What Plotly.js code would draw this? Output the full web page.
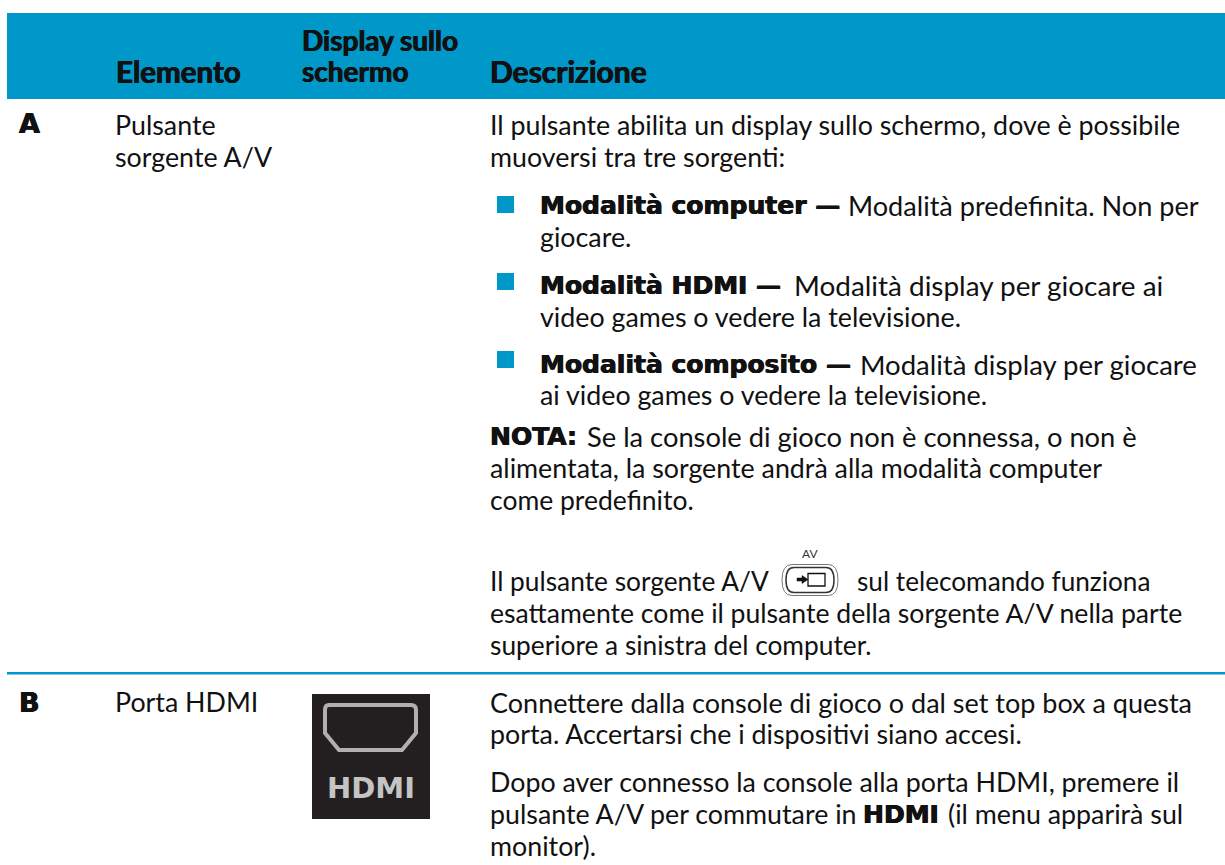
<!DOCTYPE html>
<html><head><meta charset="utf-8">
<script src="https://cdn.plot.ly/plotly-3.0.1.min.js"></script>
<style>html,body{margin:0;padding:0;background:#fff}#c{width:1225px;height:865px}</style>
</head><body><div id="c"></div>
<script>
const headerLabels = ["Elemento","Display sullo","schermo","Descrizione"];
const rowLetters = ["A","B"];
const elementLabels = ["Pulsante","sorgente A/V","Porta HDMI"];
const boldRuns = ["Modalità computer —","Modalità HDMI —","Modalità composito —","NOTA:","HDMI"];
const bodyLines = [
 "Il pulsante abilita un display sullo schermo, dove è possibile",
 "muoversi tra tre sorgenti:",
 "Modalità predefinita. Non per",
 "giocare.",
 "Modalità display per giocare ai",
 "video games o vedere la televisione.",
 "Modalità display per giocare",
 "ai video games o vedere la televisione.",
 "Se la console di gioco non è connessa, o non è",
 "alimentata, la sorgente andrà alla modalità computer",
 "come predefinito.",
 "Il pulsante sorgente A/V",
 "sul telecomando funziona",
 "esattamente come il pulsante della sorgente A/V nella parte",
 "superiore a sinistra del computer.",
 "Connettere dalla console di gioco o dal set top box a questa",
 "porta. Accertarsi che i dispositivi siano accesi.",
 "Dopo aver connesso la console alla porta HDMI, premere il",
 "pulsante A/V per commutare in",
 "(il menu apparirà sul",
 "monitor)."
];
const iconLabels = ["AV","HDMI"];

// placement
const headerPos = [[114,71],[300,40],[300,71],[488,71]];
const headerSizes = [29.5,28,28,30];
const letterPos = [[17,123],[17,702]];
const elementPos = [[113,125],[113,157],[113,702]];
const boldPos = [[538,205],[538,285],[538,364],[488,436],[861,814]];
const bodyPos = [[488,125],[488,157],[846,205],[538,237],[792,285],[538,317],[858,364],[538,395],
 [585,436],[488,468],[488,500],[488,581],[855,581],[488,613],[488,645],[488,702],[488,734],[488,782],[488,814],[946,814],[488,846]];
const bodySizes = [26.8,26.8,27.1,26.8,27.9,26.8,27.5,26.8,27.3,26.8,26.5,26.3,26.2,26.6,26.3,27,26.8,26.8,26.8,26.8,26.8];

const BLUE="#0098c9", INK="#111111", FONT="Lato", SIZE=26.8, HEAVY="DejaVu Sans";
function txt(t,p,o){o=o||{};return {text:t,x:p[0],y:p[1],xref:"x",yref:"y",xanchor:o.anchor||"left",yanchor:"middle",
  showarrow:false,align:"left",font:{family:o.family||FONT,size:o.size||SIZE,color:o.color||INK,weight:o.weight||400,shadow:o.shadow||"none"}};}
const thick="0.5px 0 0 #111,-0.5px 0 0 #111";
const annotations=[];
headerLabels.forEach((t,i)=>annotations.push(txt(t,headerPos[i],{weight:700,size:headerSizes[i],shadow:thick})));
rowLetters.forEach((t,i)=>annotations.push(txt(t,letterPos[i],{weight:700,family:HEAVY,size:27,shadow:thick})));
elementLabels.forEach((t,i)=>annotations.push(txt(t,elementPos[i])));
boldRuns.forEach((t,i)=>annotations.push(txt(t,boldPos[i],{weight:700,family:HEAVY,size:25,shadow:thick})));
bodyLines.forEach((t,i)=>annotations.push(txt(t,bodyPos[i],{size:bodySizes[i]})));
annotations.push(txt(iconLabels[0],[810,553],{anchor:"center",size:12,color:"#333"}));
annotations.push(txt(iconLabels[1],[371,788],{anchor:"center",size:29,weight:700,family:HEAVY,color:"#c4c4c4"}));

function rect(x0,y0,x1,y1,fill){return {type:"rect",xref:"x",yref:"y",x0,y0,x1,y1,fillcolor:fill,line:{width:0},layer:"below"};}
function path(d,color,w,fill){return {type:"path",xref:"x",yref:"y",path:d,line:{color,width:w},fillcolor:fill||"rgba(0,0,0,0)",layer:"below"};}
const shapes=[
 rect(7,13,1225,99,BLUE),
 rect(7,672,1225,674.5,BLUE),
 rect(497,196,514,213,BLUE),
 rect(497,273,514,290,BLUE),
 rect(497,351,514,368,BLUE),
 rect(312,694,430,819,"#231f20"),
 path("M 329 705 L 411 705 Q 416 705 416 710 L 416 733 L 402 750 L 339 750 L 325 733 L 325 710 Q 325 705 329 705 Z","#b0b0b0",4),
 path("M 792 564.5 L 828 564.5 Q 838 564.5 838 580 Q 838 595.5 828 595.5 L 792 595.5 Q 782 595.5 782 580 Q 782 564.5 792 564.5 Z","#777",1),
 path("M 794 567.5 L 826 567.5 Q 834 567.5 834 580 Q 834 592.5 826 592.5 L 794 592.5 Q 786 592.5 786 580 Q 786 567.5 794 567.5 Z","#333",1.5),
 path("M 808 573.5 L 825 573.5 L 825 586 L 808 586 Z","#111",1.3),
 path("M 797 578 L 802 578 L 802 575.5 L 808 579.5 L 802 583.5 L 802 581 L 797 581 Z","#111",0.5,"#111")
];
const layout={width:1225,height:865,margin:{l:0,r:0,t:0,b:0},paper_bgcolor:"#fff",plot_bgcolor:"#fff",showlegend:false,
 xaxis:{range:[0,1225],visible:false,fixedrange:true},yaxis:{range:[865,0],visible:false,fixedrange:true},
 shapes,annotations};
Plotly.newPlot("c",[{type:"scatter",x:[],y:[],mode:"markers"}],layout,{displayModeBar:false,staticPlot:true});
</script></body></html>
